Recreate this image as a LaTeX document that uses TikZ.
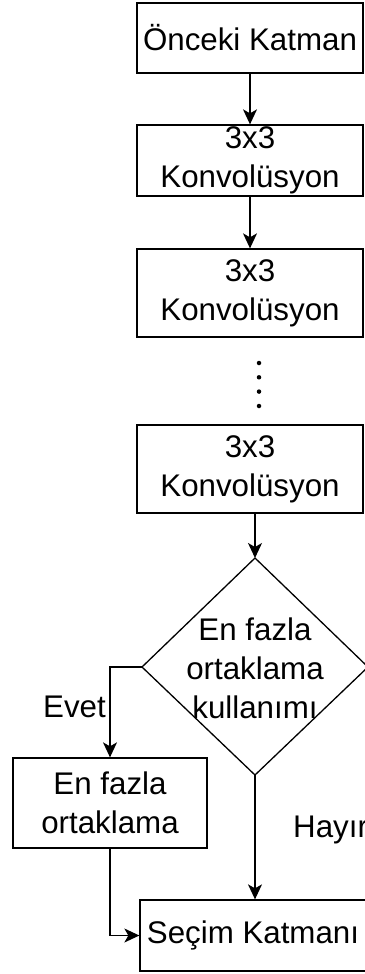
\documentclass[tikz,border=0pt]{standalone}
\usepackage{fontspec}
\setmainfont{Liberation Sans}
\usetikzlibrary{arrows.meta}
\begin{document}
\begin{tikzpicture}[x=1pt,y=-1pt,
  box/.style={draw, line width=1.3pt, rectangle, inner sep=0pt, align=center, minimum width=226pt, font=\fontsize{31.3}{39}\selectfont},
  lbl/.style={inner sep=0pt, font=\fontsize{31.3}{39}\selectfont},
  arr/.style={line width=1.3pt, -{Stealth[length=15pt,width=14pt,inset=4pt]}},
  dotmark/.style={circle, fill, inner sep=0pt, minimum size=4.5pt}]
\useasboundingbox (0,0) rectangle (364,974);
% boxes
\node[box, minimum height=70pt] (b1) at (250,38) {Önceki Katman};
\node[box, minimum height=71pt] (b2) at (250,160.5) {3x3\\Konvolüsyon};
\node[box, minimum height=88pt] (b3) at (250,293) {3x3\\Konvolüsyon};
\node[box, minimum height=88pt] (b4) at (250,469) {3x3\\Konvolüsyon};
\node[box, minimum width=194pt, minimum height=90pt] (eb) at (110,803) {En fazla\\ortaklama};
\node[box, minimum height=71pt] (sec) at (253,935.5) {Seçim Katmanı};
% dots
\node[dotmark] (d1) at (259,363) {};
\node[dotmark] (d2) at (259,377.3) {};
\node[dotmark] (d3) at (259,391.6) {};
\node[dotmark] (d4) at (259,406) {};
% decision diamond
\coordinate (dtop) at (255,558);
\coordinate (dright) at (368,667);
\coordinate (dbottom) at (255,775);
\coordinate (dleft) at (142,667);
\draw[line width=1.3pt, line join=miter] (dtop) -- (dright) -- (dbottom) -- (dleft) -- cycle;
\node[lbl, align=center] (dec) at (255,668) {En fazla\\ortaklama\\kullanımı};
% connectors
\draw[arr] (b1) -- (b2);
\draw[arr] (b2) -- (b3);
\draw[arr] (b4.south -| dtop) -- (dtop);
\draw[arr] (dleft) -| (eb.north);
\draw[arr] (dbottom) -- (dbottom |- sec.north);
\draw[arr] (eb.south) |- (sec.west);
% labels
\node[lbl, anchor=east] (evet) at (106,707) {Evet};
\node[lbl, anchor=west] (hayir) at (293,830) {Hayır};
\end{tikzpicture}
\end{document}
